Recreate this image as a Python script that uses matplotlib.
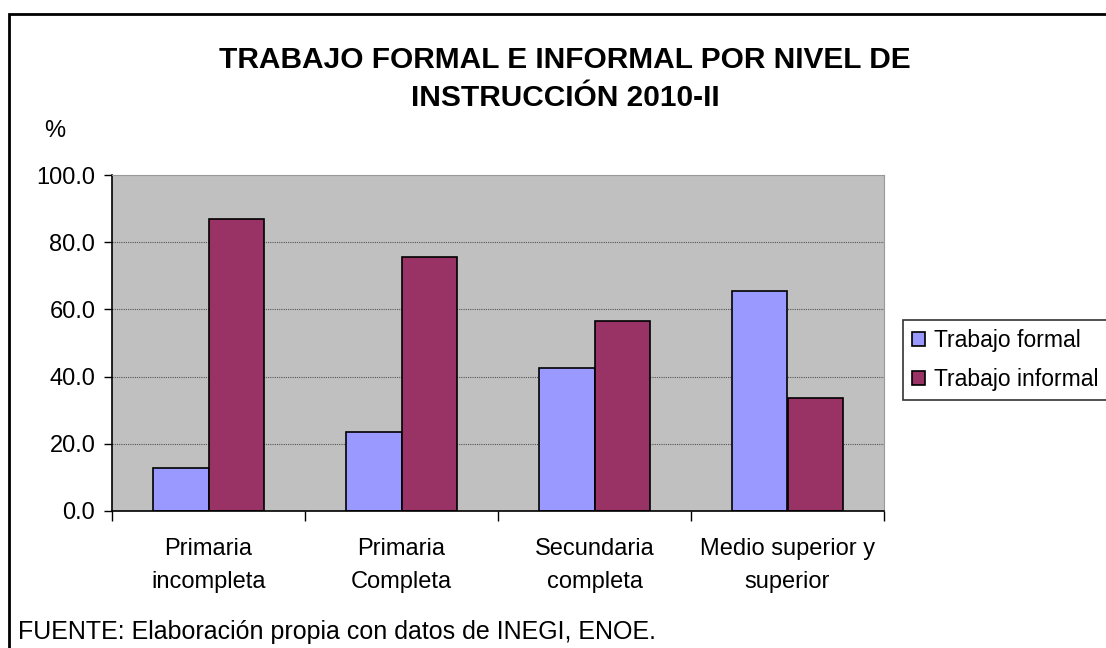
import matplotlib
matplotlib.use('Agg')
import matplotlib.pyplot as plt
from matplotlib.patches import Rectangle
import numpy as np

# Data
categories = ['Primaria\nincompleta', 'Primaria\nCompleta', 'Secundaria\ncompleta', 'Medio superior y\nsuperior']
formal = [12.8, 23.5, 42.5, 65.6]
informal = [87.0, 75.7, 56.6, 33.6]
series_names = ['Trabajo formal', 'Trabajo informal']
y_ticks = [0, 20, 40, 60, 80, 100]

plt.rcParams['font.family'] = ['Liberation Sans', 'DejaVu Sans']

W, H = 1106, 648
fig = plt.figure(figsize=(W / 100, H / 100), dpi=100)
fig.patch.set_facecolor('white')

# Outer chart border (right and bottom edges run off the picture)
fig.patches.append(Rectangle((9 / W, -0.1), 1.2, 1 - 14 / H + 0.1,
                             transform=fig.transFigure, fill=False,
                             edgecolor='black', linewidth=2))

ax = fig.add_axes([112 / W, 1 - 510.7 / H, 772 / W, (510.7 - 175.3) / H])
ax.set_facecolor('#C0C0C0')

x = np.arange(len(categories))
bw = 0.288
ax.bar(x - bw / 2, formal, bw, color='#9999FF', edgecolor='black',
       linewidth=1.2, label=series_names[0], zorder=3)
ax.bar(x + bw / 2, informal, bw, color='#993366', edgecolor='black',
       linewidth=1.2, label=series_names[1], zorder=3)

ax.set_xlim(-0.5, len(categories) - 0.5)
ax.set_ylim(0, 100)

ax.set_yticks(y_ticks)
ax.set_yticklabels([f'{v:.1f}' for v in y_ticks], fontsize=17)
ax.tick_params(axis='y', direction='out', length=6, width=1, pad=6)

# x ticks at category boundaries, labels centered in each category
ax.set_xticks(np.arange(-0.5, len(categories), 1.0))
ax.set_xticklabels([])
ax.set_xticks(x, minor=True)
ax.set_xticklabels(categories, minor=True, fontsize=17, linespacing=1.6)
ax.tick_params(axis='x', which='major', direction='out', length=7, width=1)
ax.tick_params(axis='x', which='minor', length=0, pad=20)

for v in y_ticks[1:-1]:
    ax.axhline(v, color='#555555', linestyle=(0, (1, 1)), linewidth=0.8, zorder=1)

ax.spines['left'].set_color('black')
ax.spines['bottom'].set_color('black')
ax.spines['left'].set_linewidth(1.2)
ax.spines['bottom'].set_linewidth(1.2)
ax.spines['top'].set_color('#999999')
ax.spines['right'].set_color('#999999')
for s in ax.spines.values():
    s.set_zorder(4)

fig.text(565 / W, 1 - 79 / H, 'TRABAJO FORMAL E INFORMAL POR NIVEL DE\nINSTRUCCIÓN 2010-II',
         ha='center', va='center', fontsize=21.5, fontweight='bold', linespacing=1.5)
fig.text(44 / W, 1 - 131 / H, '%', ha='left', va='center', fontsize=17)

leg = fig.legend(loc='upper left', bbox_to_anchor=(903 / W, 1 - 320 / H),
                 fontsize=16.5, frameon=True, fancybox=False, borderaxespad=0,
                 handlelength=0.55, handleheight=0.55, handletextpad=0.4,
                 borderpad=0.4, labelspacing=0.7)
leg.get_frame().set_edgecolor('black')
leg.get_frame().set_linewidth(1.2)

fig.text(18 / W, 1 - 632 / H, 'FUENTE: Elaboración propia con datos de INEGI, ENOE.',
         ha='left', va='center', fontsize=18)

fig.savefig('out.png', dpi=100, facecolor='white')
